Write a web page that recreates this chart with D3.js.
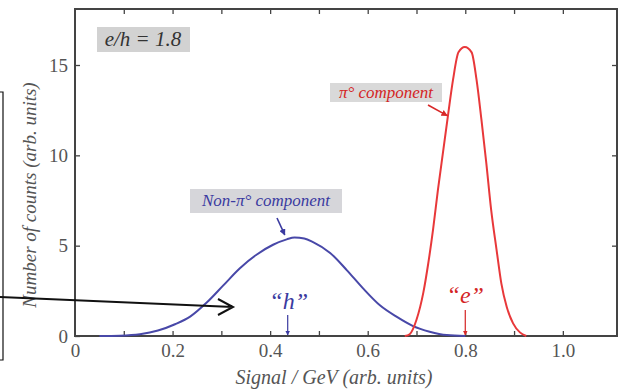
<!DOCTYPE html>
<html>
<head>
<meta charset="utf-8">
<script src="https://d3js.org/d3.v7.min.js"></script>
</head>
<body style="margin:0">
<script>
// non-pi0 (hadronic) component
const blueX = [0.05, 0.092, 0.133, 0.17, 0.205, 0.236, 0.27, 0.304, 0.338, 0.372, 0.406, 0.434, 0.45, 0.47, 0.488, 0.523, 0.557, 0.59, 0.625, 0.659, 0.693, 0.727, 0.762, 0.80];
const blueY = [0, 0.02, 0.1, 0.3, 0.65, 1.07, 1.85, 2.8, 3.75, 4.5, 5.05, 5.35, 5.45, 5.4, 5.2, 4.6, 3.65, 2.65, 1.7, 1.07, 0.55, 0.24, 0.05, 0];

// pi0 (electromagnetic) component
const redX = [0.676, 0.686, 0.70, 0.714, 0.724, 0.734, 0.744, 0.755, 0.765, 0.775, 0.786, 0.799, 0.813, 0.823, 0.833, 0.843, 0.853, 0.864, 0.874, 0.885, 0.898, 0.912, 0.925];
const redY = [0, 0.1, 0.9, 2.4, 4.0, 5.9, 8.1, 10.3, 12.3, 14.2, 15.7, 16.0, 15.7, 14.2, 12.0, 9.6, 7.0, 4.8, 2.9, 1.6, 0.7, 0.2, 0];

const xTickLabels = [0, 0.2, 0.4, 0.6, 0.8, 1.0];
const xMinorTicks = [0.1, 0.2, 0.3, 0.4, 0.5, 0.6, 0.7, 0.8, 0.9, 1.0];
const yTickLabels = [0, 5, 10, 15];

const hPeak = 0.436;
const ePeak = 0.80;

const width = 625, height = 392;
const marginTop = 9, marginRight = 8, marginBottom = 56, marginLeft = 75;
const fontParts = ["Liberation", "Serif"];

const svg = d3.select("body").append("svg")
  .attr("width", width)
  .attr("height", height);

const x = d3.scaleLinear()
  .domain([0, 1.111])
  .range([marginLeft, width - marginRight]);

const y = d3.scaleLinear()
  .domain([0, 18.1])
  .range([height - marginBottom, marginTop]);

const frameColor = "#444";
const labelColor = "#555";

// bottom: inner ticks, then labels
svg.append("g")
  .attr("transform", `translate(0,${y(0)})`)
  .call(d3.axisBottom(x).tickValues(xMinorTicks).tickSize(-5).tickFormat(""))
  .call(g => g.select(".domain").remove())
  .call(g => g.selectAll(".tick line").attr("stroke", frameColor).attr("stroke-width", 1.3));

svg.append("g")
  .attr("transform", `translate(0,${y(0)})`)
  .call(d3.axisBottom(x).tickValues(xTickLabels).tickSize(0).tickPadding(8)
    .tickFormat(d => d === 0 ? "0" : d3.format(".1f")(d)))
  .call(g => g.select(".domain").remove())
  .call(g => g.selectAll("text")
    .attr("fill", labelColor)
    .style("font-size", "19px"));

// top ticks
svg.append("g")
  .attr("transform", `translate(0,${y(y.domain()[1])})`)
  .call(d3.axisTop(x).tickValues(xMinorTicks).tickSize(-5).tickFormat(""))
  .call(g => g.select(".domain").remove())
  .call(g => g.selectAll(".tick line").attr("stroke", frameColor).attr("stroke-width", 1.3));

// left axis
svg.append("g")
  .attr("transform", `translate(${x(0)},0)`)
  .call(d3.axisLeft(y).tickValues(yTickLabels).tickSize(-5).tickPadding(7))
  .call(g => g.select(".domain").remove())
  .call(g => g.selectAll(".tick line").attr("stroke", frameColor).attr("stroke-width", 1.3))
  .call(g => g.selectAll("text")
    .attr("fill", labelColor)
    .style("font-size", "19px"));

// right ticks
svg.append("g")
  .attr("transform", `translate(${x(x.domain()[1])},0)`)
  .call(d3.axisRight(y).tickValues(yTickLabels.slice(1)).tickSize(-5).tickFormat(""))
  .call(g => g.select(".domain").remove())
  .call(g => g.selectAll(".tick line").attr("stroke", frameColor).attr("stroke-width", 1.3));

// frame
svg.append("rect")
  .attr("x", x(0))
  .attr("y", y(y.domain()[1]))
  .attr("width", x(x.domain()[1]) - x(0))
  .attr("height", y(0) - y(y.domain()[1]))
  .attr("fill", "none")
  .attr("stroke", frameColor)
  .attr("stroke-width", 2);

// curves
const line = d3.line()
  .x(d => x(d[0]))
  .y(d => y(d[1]))
  .curve(d3.curveMonotoneX);

svg.append("path")
  .datum(blueX.map((v, i) => [v, blueY[i]]))
  .attr("fill", "none")
  .attr("stroke", "#4848a8")
  .attr("stroke-width", 2)
  .attr("d", line);

svg.append("path")
  .datum(redX.map((v, i) => [v, redY[i]]))
  .attr("fill", "none")
  .attr("stroke", "#e8383a")
  .attr("stroke-width", 2)
  .attr("d", line);

// arrow markers
const defs = svg.append("defs");
function marker(id, color) {
  defs.append("marker")
    .attr("id", id)
    .attr("viewBox", "0 0 10 10")
    .attr("refX", 9).attr("refY", 5)
    .attr("markerWidth", 4).attr("markerHeight", 4)
    .attr("orient", "auto")
    .append("path")
    .attr("d", "M0,0L10,5L0,10z")
    .attr("fill", color);
}
marker("arrBlue", "#3a3aa0");
marker("arrRed", "#d82828");

// e/h box
svg.append("rect")
  .attr("x", 97).attr("y", 27).attr("width", 93).attr("height", 25)
  .attr("fill", "#d2d2d2");
svg.append("text")
  .attr("x", 143).attr("y", 46)
  .attr("text-anchor", "middle")
  .attr("fill", "#333")
  .style("font-size", "21px")
  .style("font-style", "italic")
  .text("e/h = 1.8");

// pi0 component label
svg.append("rect")
  .attr("x", 330).attr("y", 83).attr("width", 112).attr("height", 19)
  .attr("fill", "#d9d9d9");
svg.append("text")
  .attr("x", 386).attr("y", 98)
  .attr("text-anchor", "middle")
  .attr("fill", "#d42424")
  .style("font-size", "17px")
  .style("font-style", "italic")
  .text("π° component");
svg.append("line")
  .attr("x1", 428).attr("y1", 105)
  .attr("x2", x(0.763)).attr("y2", y(12.2))
  .attr("stroke", "#d82828").attr("stroke-width", 1.6)
  .attr("marker-end", "url(#arrRed)");

// non-pi0 component label
svg.append("rect")
  .attr("x", 190).attr("y", 189).attr("width", 152).attr("height", 24)
  .attr("fill", "#d6d6da");
svg.append("text")
  .attr("x", 266).attr("y", 206)
  .attr("text-anchor", "middle")
  .attr("fill", "#3a3aa0")
  .style("font-size", "17px")
  .style("font-style", "italic")
  .text("Non-π° component");
svg.append("line")
  .attr("x1", 277).attr("y1", 218)
  .attr("x2", x(0.43)).attr("y2", y(5.6))
  .attr("stroke", "#3a3aa0").attr("stroke-width", 1.6)
  .attr("marker-end", "url(#arrBlue)");

// "h" and "e" markers
svg.append("text")
  .attr("x", x(hPeak) + 1).attr("y", 309)
  .attr("text-anchor", "middle")
  .attr("fill", "#3a3aa0")
  .style("font-size", "24px")
  .style("font-style", "italic")
  .text("\u201Ch\u201D");
svg.append("line")
  .attr("x1", x(hPeak)).attr("y1", 315)
  .attr("x2", x(hPeak)).attr("y2", y(0) - 1)
  .attr("stroke", "#3a3aa0").attr("stroke-width", 1.2)
  .attr("marker-end", "url(#arrBlue)");

svg.append("text")
  .attr("x", x(ePeak)).attr("y", 303)
  .attr("text-anchor", "middle")
  .attr("fill", "#d42424")
  .style("font-size", "24px")
  .style("font-style", "italic")
  .text("\u201Ce\u201D");
svg.append("line")
  .attr("x1", x(ePeak)).attr("y1", 310)
  .attr("x2", x(ePeak)).attr("y2", y(0) - 1)
  .attr("stroke", "#d42424").attr("stroke-width", 1.2)
  .attr("marker-end", "url(#arrRed)");

// axis titles
svg.append("text")
  .attr("x", 334).attr("y", 384)
  .attr("text-anchor", "middle")
  .attr("fill", labelColor)
  .style("font-size", "20px")
  .style("font-style", "italic")
  .text("Signal / GeV (arb. units)");

svg.append("text")
  .attr("transform", "translate(36,195) rotate(-90)")
  .attr("text-anchor", "middle")
  .attr("fill", labelColor)
  .style("font-size", "19px")
  .style("font-style", "italic")
  .text("Number of counts (arb. units)");

// partial box at the left edge and the black pointer arrow
svg.append("path")
  .attr("d", "M0,92H3V360H0")
  .attr("fill", "none")
  .attr("stroke", "#111")
  .attr("stroke-width", 1.2);

svg.append("path")
  .attr("d", "M0,297L233,307M218,299L233,307L218,315")
  .attr("fill", "none")
  .attr("stroke", "#111")
  .attr("stroke-width", 2);

// serif on every label (family name built at run time)
svg.selectAll("g").attr("font-family", null);
svg.selectAll("text").style("font-family", () => `"${fontParts.join(" ")}"`);
</script>
</body>
</html>
